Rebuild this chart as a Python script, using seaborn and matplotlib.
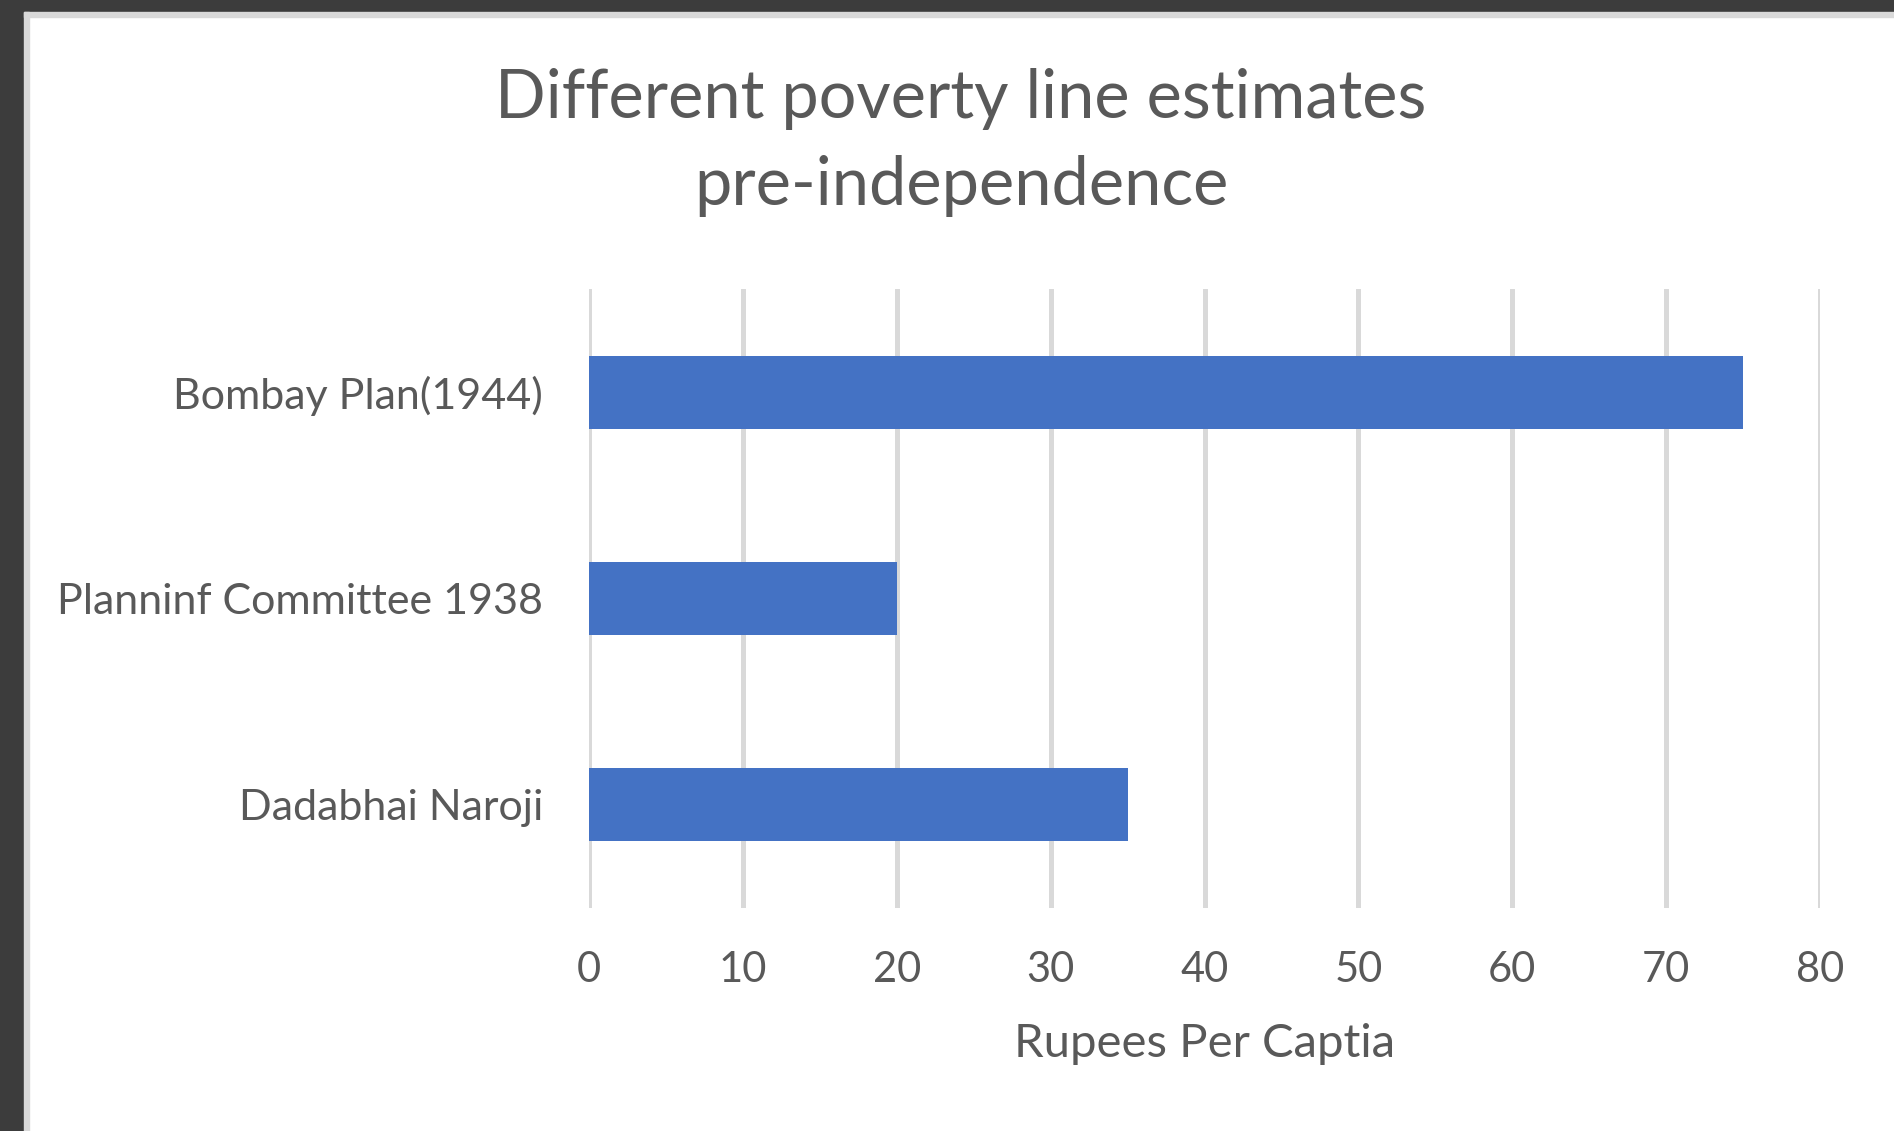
import matplotlib
matplotlib.use("Agg")
import matplotlib.pyplot as plt
import seaborn as sns
import pandas as pd
from matplotlib.patches import Rectangle

categories = ["Bombay Plan(1944)", "Planninf Committee 1938", "Dadabhai Naroji"]
values = [75, 20, 35]
x_ticks = [0, 10, 20, 30, 40, 50, 60, 70, 80]
title_text = "Different poverty line estimates\npre-independence"
x_label = "Rupees Per Captia"

df = pd.DataFrame({"category": categories, "value": values})

sns.set_theme(style="white")
plt.rcParams["font.family"] = ["Lato", "DejaVu Sans"]

W, H = 1894, 1131
fig = plt.figure(figsize=(W / 100, H / 100), dpi=100)
fig.patch.set_facecolor("white")

# frame bands
fig.add_artist(Rectangle((0, 1 - 12 / H), 1, 12 / H, transform=fig.transFigure, color="#3c3c3c", zorder=0))
fig.add_artist(Rectangle((0, 0), 24 / W, 1, transform=fig.transFigure, color="#3c3c3c", zorder=0))
fig.add_artist(Rectangle((24 / W, 1 - 17 / H), 1, 5 / H, transform=fig.transFigure, color="#d9d9d9", zorder=0))
fig.add_artist(Rectangle((24 / W, 0), 5 / W, 1 - 12 / H, transform=fig.transFigure, color="#d9d9d9", zorder=0))

ax = fig.add_axes([589 / W, 1 - 908 / H, (1820 - 589) / W, (908 - 289) / H])
sns.barplot(data=df, x="value", y="category", orient="h", color="#4472C4",
            width=0.355, saturation=1, linewidth=0, ax=ax, zorder=3)

ax.set_xlim(0, 80)
ax.set_ylim(2.5, -0.5)
ax.set_xticks(x_ticks)
ax.set_xticklabels([str(t) for t in x_ticks])
ax.grid(axis="x", color="#d9d9d9", linewidth=3.6, zorder=0)
ax.set_axisbelow(True)
for s in ax.spines.values():
    s.set_visible(False)
ax.tick_params(axis="both", length=0, colors="#595959")
ax.tick_params(axis="x", pad=31, labelsize=30)
ax.tick_params(axis="y", pad=33, labelsize=31)
ax.set_ylabel("")
ax.set_xlabel(x_label, fontsize=34, color="#595959")
ax.xaxis.label.set_va("center")
ax.xaxis.set_label_coords(0.5, (908 - 1044) / (908 - 289))

fig.text(961 / W, 1 - 142 / H, title_text, ha="center", va="center",
         fontsize=48, color="#595959", linespacing=1.5)

fig.savefig("out.png", dpi=100, facecolor="white")
